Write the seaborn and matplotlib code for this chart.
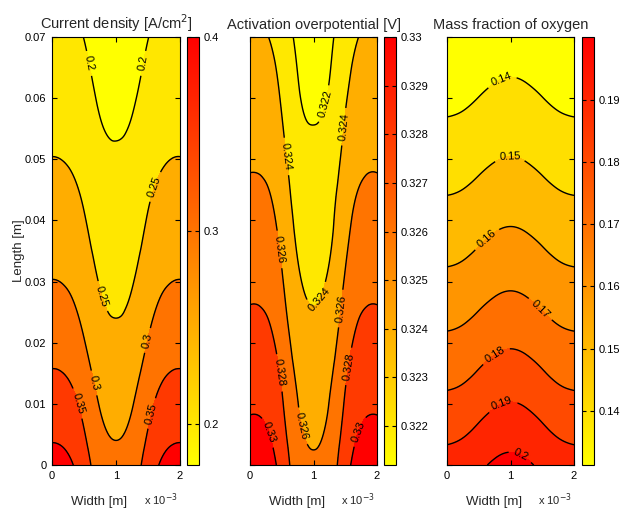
import numpy as np
import matplotlib
matplotlib.use('Agg')
import matplotlib.pyplot as plt
import matplotlib.tri as mtri
from matplotlib.colors import Normalize
from matplotlib.cm import ScalarMappable
import seaborn as sns

# grid: width in mm (x 10^-3 m), length in m
widths = [0, 0.25, 0.5, 0.75, 1.0, 1.25, 1.5, 1.75, 2.0]
lengths = [0, 0.01, 0.02, 0.03, 0.04, 0.05, 0.06, 0.07]

# cross-width profile, 0 at the walls and 1 on the centreline
profile_cd = [0, 0.08, 0.42, 0.86, 1.0, 0.86, 0.42, 0.08, 0]
profile_eta = [0, 0.04, 0.36, 0.85, 1.0, 0.85, 0.36, 0.04, 0]
profile_o2 = [0, 0.15, 0.5, 0.85, 1.0, 0.85, 0.5, 0.15, 0]

# current density [A/cm2] at the walls / centreline along the length
cd_wall = [0.417, 0.373, 0.334, 0.301, 0.276, 0.251, 0.232, 0.214]
cd_mid = [0.310, 0.285, 0.259, 0.239, 0.222, 0.205, 0.190, 0.179]
cd_levels = [0.2, 0.25, 0.3, 0.35, 0.4]
cd_clim = (0.179, 0.4)
cd_cticks = [0.2, 0.3, 0.4]

# activation overpotential [V]
eta_wall = [0.3310, 0.3298, 0.3287, 0.3276, 0.3267, 0.3258, 0.3250, 0.3242]
eta_mid = [0.3262, 0.3254, 0.3245, 0.3237, 0.3230, 0.3224, 0.3217, 0.3212]
eta_levels = [0.322, 0.324, 0.326, 0.328, 0.33]
eta_clim = (0.3212, 0.33)
eta_cticks = [0.322, 0.323, 0.324, 0.325, 0.326, 0.327, 0.328, 0.329, 0.33]

# mass fraction of oxygen
o2_wall = [0.1938, 0.1824, 0.1719, 0.1622, 0.1534, 0.1453, 0.1377, 0.1306]
o2_mid = [0.2026, 0.1904, 0.1789, 0.1685, 0.1591, 0.1504, 0.1426, 0.1351]
o2_levels = [0.14, 0.15, 0.16, 0.17, 0.18, 0.19, 0.2]
o2_clim = (0.1313, 0.2001)
o2_cticks = [0.14, 0.15, 0.16, 0.17, 0.18, 0.19]

# where the inline labels sit (mm, m)
cd_lab = [(0.59, 0.0657), (1.42, 0.0657), (1.61, 0.0455), (0.75, 0.0275),
          (1.48, 0.0204), (0.65, 0.0134), (0.41, 0.0101), (1.53, 0.0085)]
eta_lab = [(1.13, 0.0592), (1.50, 0.0553), (0.52, 0.0504), (0.42, 0.0352),
           (1.42, 0.0256), (1.10, 0.027), (0.42, 0.015), (1.57, 0.0161),
           (0.79, 0.0063), (0.26, 0.0052), (1.73, 0.0054)]
o2_lab = [(0.86, 0.063), (0.99, 0.0502), (0.57, 0.0376), (1.46, 0.0254),
          (0.78, 0.0178), (0.89, 0.0095), (1.15, 0.0014)]

sns.set_style('ticks')
plt.rcParams['font.family'] = ['Liberation Sans', 'DejaVu Sans']
plt.rcParams['axes.axisbelow'] = False
cmap = sns.color_palette('autumn_r', as_cmap=True)

W, Lc = np.meshgrid(widths, np.asarray(lengths) * 100)
refiner = mtri.UniformTriRefiner(mtri.Triangulation(W.ravel(), Lc.ravel()))


def field(wall, mid, profile):
    wall = np.asarray(wall)[:, None]
    mid = np.asarray(mid)[:, None]
    return wall + (mid - wall) * np.asarray(profile)[None, :]


def draw(ax, cax, z, levels, clim, cticks, title, lab):
    tf, zf = refiner.refine_field(z.ravel(), subdiv=4)
    tm = mtri.Triangulation(tf.x, tf.y / 100, tf.triangles)
    norm = Normalize(*clim)
    bounds = [min(zf.min(), clim[0]) - 1] + levels + [max(zf.max(), clim[1]) + 1]
    fills = [cmap(norm(v)) for v in [clim[0]] + levels]
    ax.tricontourf(tm, zf, levels=bounds, colors=fills)
    cs = ax.tricontour(tm, zf, levels=levels, colors='k', linewidths=1.0)
    ax.clabel(cs, fmt='%g', fontsize=8, inline=True, manual=lab)
    ax.set_axisbelow(False)
    ax.set_xlim(0, 2)
    ax.set_ylim(0, 0.07)
    ax.set_xticks([0, 1, 2])
    ax.set_xticklabels(['0', '1', '2'])
    ax.set_yticks(np.arange(0, 0.071, 0.01))
    ax.tick_params(direction='in', bottom=True, left=True, top=True,
                   right=True, length=3.5, width=0.8, colors='black',
                   labelsize=8, pad=4)
    for s in ax.spines.values():
        s.set_linewidth(0.8)
        s.set_color('black')
    ax.set_title(title, fontsize=10.5, pad=6)
    ax.set_xlabel('Width [m]', fontsize=9.5)
    ax.xaxis.set_label_coords(0.37, -0.072)
    ax.text(0.985, -0.082, r'x 10$^{-3}$', transform=ax.transAxes,
            ha='right', va='center', fontsize=8)
    cb = plt.colorbar(ScalarMappable(norm=norm, cmap=cmap), cax=cax)
    cb.set_ticks(cticks)
    cb.set_ticklabels(['%g' % t for t in cticks])
    cax.set_axisbelow(False)
    cax.tick_params(direction='in', left=True, right=True, length=3,
                    width=0.8, colors='black', labelsize=8, pad=3)
    cb.outline.set_linewidth(0.8)
    cb.outline.set_edgecolor('black')


fig = plt.figure(figsize=(6.23, 5.11), dpi=100)
bottom, height = 0.090, 0.8376
ax1 = fig.add_axes([0.0835, bottom, 0.2055, height])
cx1 = fig.add_axes([0.3002, bottom, 0.0193, height])
ax2 = fig.add_axes([0.4013, bottom, 0.2039, height])
cx2 = fig.add_axes([0.6164, bottom, 0.0193, height])
ax3 = fig.add_axes([0.7175, bottom, 0.2039, height])
cx3 = fig.add_axes([0.9342, bottom, 0.0193, height])

draw(ax1, cx1, field(cd_wall, cd_mid, profile_cd), cd_levels, cd_clim,
     cd_cticks, r'Current density [A/cm$^2$]', cd_lab)
draw(ax2, cx2, field(eta_wall, eta_mid, profile_eta), eta_levels, eta_clim,
     eta_cticks, 'Activation overpotential [V]', eta_lab)
draw(ax3, cx3, field(o2_wall, o2_mid, profile_o2), o2_levels, o2_clim,
     o2_cticks, 'Mass fraction of oxygen', o2_lab)

ax1.set_yticklabels(['%g' % t for t in np.arange(0, 0.071, 0.01).round(2)])
ax1.set_ylabel('Length [m]', fontsize=9.5, labelpad=0)
ax2.set_yticklabels([])
ax3.set_yticklabels([])

fig.savefig('out.png', dpi=100, facecolor='white')
